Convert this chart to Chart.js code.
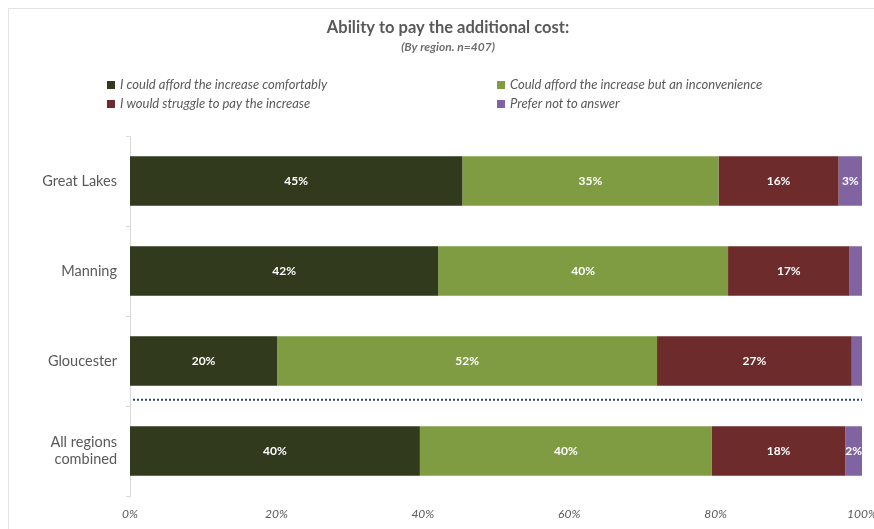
<!DOCTYPE html>
<html>
<head>
<meta charset="utf-8">
<script src="https://cdn.jsdelivr.net/npm/chart.js@4"></script>
<style>
  body { margin: 0; background: #fff; }
  #wrap { width: 874px; height: 529px; }
</style>
</head>
<body>
<div id="wrap"><canvas id="chart" width="874" height="529"></canvas></div>
<script>
// regions (top to bottom)
const regions = ['Great Lakes', 'Manning', 'Gloucester', ['All regions', 'combined']];

// answer series, % of respondents
const seriesNames = [
    'I could afford the increase comfortably',
    'Could afford the increase but an inconvenience',
    'I would struggle to pay the increase',
    'Prefer not to answer'
];
const comfortable = [45.4, 42.1, 20.1, 39.6];
const inconvenient = [35.0, 39.6, 51.9, 39.9];
const struggle = [16.4, 16.6, 26.6, 18.2];
const preferNot = [3.2, 1.7, 1.4, 2.3];

const seriesColors = ['#313a1c', '#7f9c42', '#6e2b2b', '#8064a2'];
const xTicks = [0, 20, 40, 60, 80, 100];

// where the dotted separator sits (between Gloucester and All regions)
const separatorAt = 2.43;

const grey = '#595959';
const font = 'Lato, "Open Sans", sans-serif';

const headerPlugin = {
    id: 'header',
    beforeDraw(chart) {
        const ctx = chart.ctx;
        ctx.save();
        // chart frame
        ctx.strokeStyle = '#e3e3e3';
        ctx.lineWidth = 1;
        ctx.strokeRect(8.5, 8.5, 880, 540);

        ctx.fillStyle = grey;
        ctx.textAlign = 'center';
        ctx.textBaseline = 'middle';
        ctx.font = 'bold 16.5px ' + font;
        ctx.fillText('Ability to pay the additional cost:', 448, 28);
        ctx.font = 'italic bold 12px ' + font;
        ctx.fillStyle = '#6f6f6f';
        ctx.fillText('(By region. n=407)', 448, 47);

        // legend in two columns
        const spots = [[107, 85], [497, 85], [107, 104], [497, 104]];
        ctx.font = 'italic 13px ' + font;
        ctx.textAlign = 'left';
        chart.data.datasets.forEach((ds, i) => {
            const [x, y] = spots[i];
            ctx.fillStyle = ds.backgroundColor;
            ctx.fillRect(x, y - 4, 8, 8);
            ctx.fillStyle = grey;
            ctx.fillText(ds.label, x + 13, y);
        });
        ctx.restore();
    },
    afterDatasetsDraw(chart) {
        const ctx = chart.ctx;
        const area = chart.chartArea;
        ctx.save();
        // segment labels
        ctx.fillStyle = '#ffffff';
        ctx.font = 'bold 12px ' + font;
        ctx.textAlign = 'center';
        ctx.textBaseline = 'middle';
        chart.data.datasets.forEach((ds, i) => {
            const meta = chart.getDatasetMeta(i);
            meta.data.forEach((bar, j) => {
                const v = ds.data[j];
                if (v < 2) return;
                const cx = (bar.x + bar.base) / 2;
                ctx.fillText(Math.round(v) + '%', cx, bar.y);
            });
        });
        // dotted separator
        const y = chart.scales.y.getPixelForValue(separatorAt);
        ctx.strokeStyle = '#2f4470';
        ctx.lineWidth = 2;
        ctx.setLineDash([2, 2]);
        ctx.beginPath();
        ctx.moveTo(area.left + 3, y);
        ctx.lineTo(area.right, y);
        ctx.stroke();
        ctx.restore();
    }
};

const values = [comfortable, inconvenient, struggle, preferNot];

new Chart(document.getElementById('chart'), {
    type: 'bar',
    data: {
        labels: regions,
        datasets: seriesNames.map((name, i) => ({
            label: name,
            data: values[i],
            backgroundColor: seriesColors[i],
            borderWidth: 0,
            barPercentage: 0.55,
            categoryPercentage: 1
        }))
    },
    options: {
        indexAxis: 'y',
        responsive: false,
        animation: false,
        layout: { padding: { top: 136, right: 12, bottom: 10, left: 0 } },
        plugins: {
            legend: { display: false },
            title: { display: false },
            tooltip: { enabled: false }
        },
        scales: {
            x: {
                stacked: true,
                min: 0,
                max: 100,
                afterBuildTicks(scale) {
                    scale.ticks = xTicks.map(v => ({ value: v }));
                },
                afterFit(scale) {
                    scale.height = 23;
                    scale.paddingLeft = 0;
                    scale.paddingRight = 0;
                },
                grid: { display: false },
                border: { display: false },
                ticks: {
                    padding: 3,
                    color: grey,
                    font: { family: font, size: 12, style: 'italic' },
                    callback: v => v + '%'
                }
            },
            y: {
                stacked: true,
                afterFit(scale) {
                    scale.width = 130;
                    scale.paddingTop = 0;
                    scale.paddingBottom = 0;
                },
                grid: {
                    drawOnChartArea: false,
                    drawTicks: true,
                    tickLength: 4,
                    color: '#d9d9d9'
                },
                border: { display: true, color: '#d9d9d9' },
                ticks: {
                    padding: 9,
                    color: grey,
                    font: { family: font, size: 14.5 }
                }
            }
        }
    },
    plugins: [headerPlugin]
});
</script>
</body>
</html>
